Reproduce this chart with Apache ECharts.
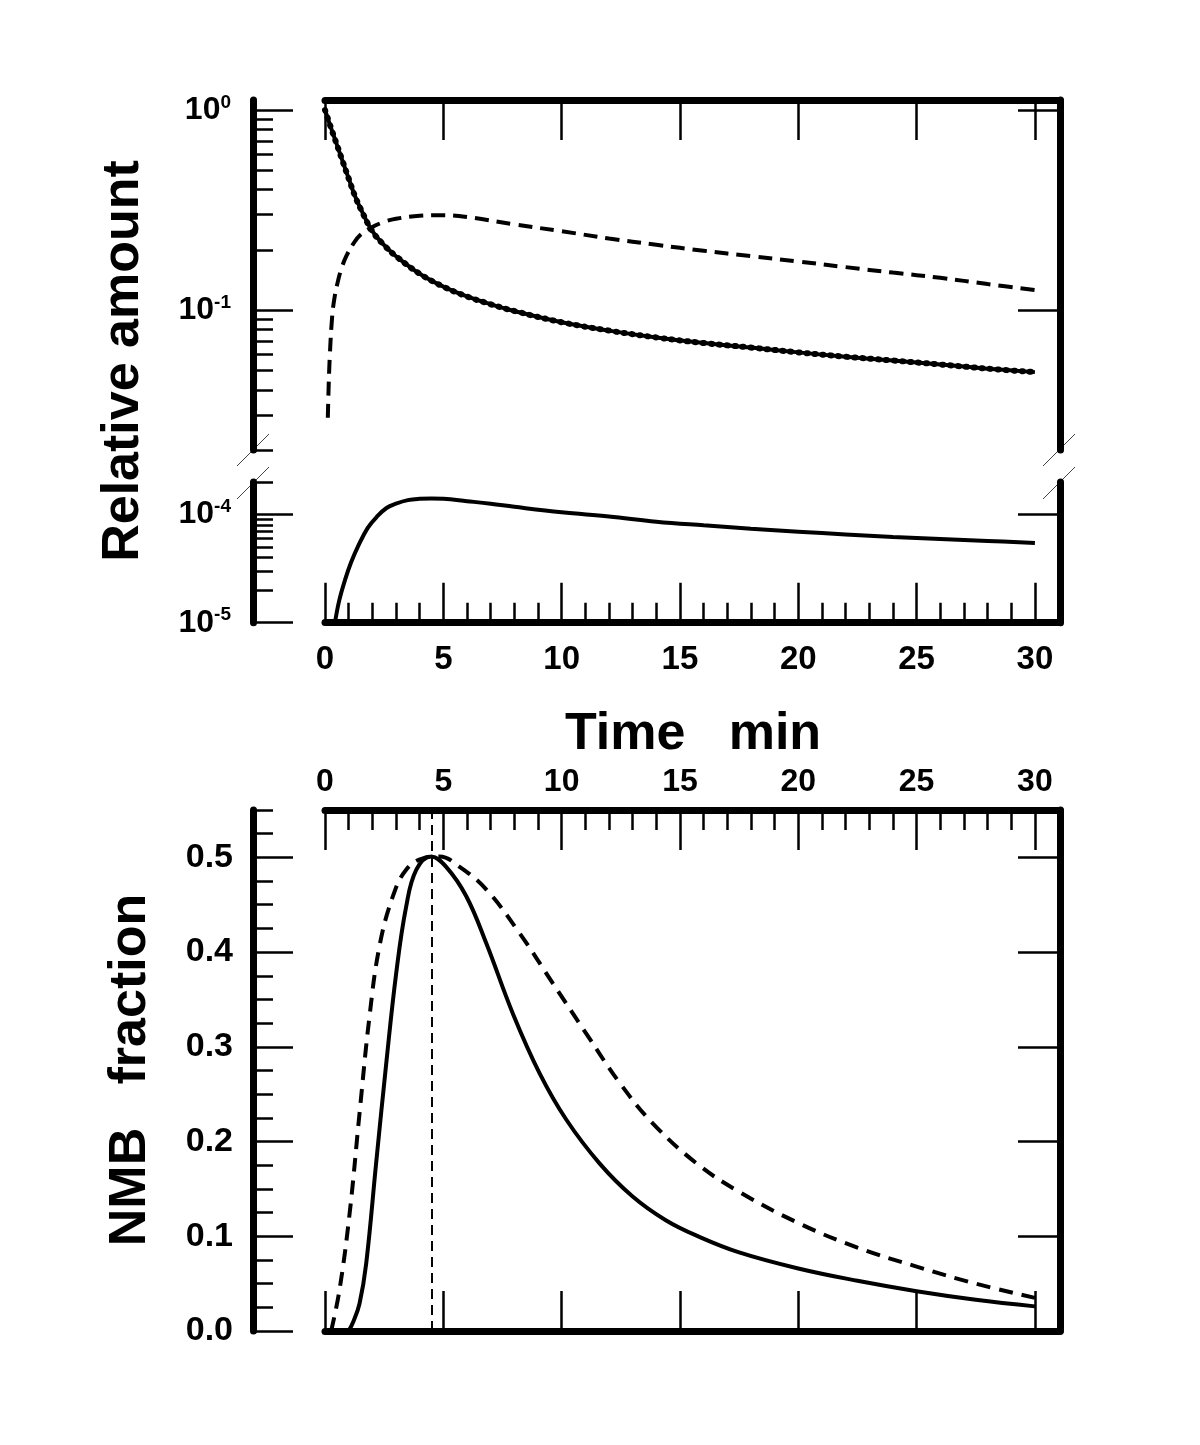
<!DOCTYPE html>
<html><head><meta charset="utf-8">
<script src="https://cdn.jsdelivr.net/npm/echarts@6/dist/echarts.min.js"></script>
<style>html,body{margin:0;padding:0;background:#fff}#c{width:1200px;height:1445px}</style>
</head><body><div id="c"></div>
<script>
// ---------- DATA ----------
// Upper panel (log scale): total relative amount (solid), intermediate (dashed)
const timeTotal = [0, 0.26, 0.5, 0.75, 1, 1.25, 1.5, 2, 2.5, 3, 4, 5, 6, 7, 8, 10, 12, 14, 16, 18, 20, 22, 24, 26, 28, 30];
const relTotal  = [1.0, 0.81, 0.672, 0.552, 0.455, 0.376, 0.322, 0.248, 0.211, 0.186, 0.152, 0.131, 0.117, 0.107, 0.099, 0.087, 0.079, 0.073, 0.0685, 0.065, 0.0615, 0.0585, 0.056, 0.0535, 0.051, 0.049];
const timeInter = [0.12, 0.15, 0.2, 0.3, 0.4, 0.55, 0.7, 0.9, 1.2, 1.5, 2, 2.5, 3, 4, 5, 6, 8, 10, 12, 14, 16, 18, 20, 22, 24, 26, 28, 30];
const relInter  = [0.029, 0.04, 0.058, 0.092, 0.115, 0.14, 0.162, 0.186, 0.215, 0.238, 0.26, 0.276, 0.286, 0.296, 0.298, 0.292, 0.268, 0.248, 0.228, 0.212, 0.198, 0.186, 0.175, 0.164, 0.154, 0.145, 0.135, 0.126];
// Lower part of upper panel (log scale, 1e-5 .. 2e-4)
const timeSmall = [0.42, 0.6, 0.85, 1.1, 1.4, 1.8, 2.2, 2.6, 3, 3.5, 4, 4.5, 5, 6, 7, 8, 10, 12, 14, 16, 18, 20, 22, 24, 26, 28, 30];
const relSmall  = [1.0e-5, 1.6e-5, 2.5e-5, 3.6e-5, 5.1e-5, 7.5e-5, 9.6e-5, 1.15e-4, 1.26e-4, 1.36e-4, 1.40e-4, 1.41e-4, 1.40e-4, 1.33e-4, 1.26e-4, 1.18e-4, 1.05e-4, 9.6e-5, 8.6e-5, 7.95e-5, 7.4e-5, 6.95e-5, 6.55e-5, 6.2e-5, 5.95e-5, 5.7e-5, 5.46e-5];
// Lower panel: NMB fraction
const timeNmbSolid = [1.0, 1.2, 1.46, 1.74, 2.16, 2.59, 3.01, 3.43, 3.86, 4.49, 5.12, 5.97, 6.82, 7.94, 9.07, 10.2, 11.6, 13.0, 14.4, 15.8, 17.5, 20, 22.5, 25, 27.5, 30];
const nmbSolid     = [0.0, 0.01, 0.029, 0.071, 0.177, 0.283, 0.378, 0.448, 0.487, 0.501, 0.49, 0.459, 0.409, 0.335, 0.272, 0.223, 0.177, 0.142, 0.117, 0.0996, 0.083, 0.066, 0.053, 0.042, 0.033, 0.026];
const timeNmbDash  = [0.26, 0.61, 1.04, 1.46, 1.88, 2.3, 2.87, 3.43, 4.14, 4.84, 5.69, 6.82, 8.22, 9.63, 11.04, 12.45, 13.86, 15.7, 17.5, 20, 22.5, 25, 27.5, 30];
const nmbDash      = [0.0, 0.043, 0.124, 0.23, 0.332, 0.406, 0.459, 0.487, 0.499, 0.501, 0.49, 0.466, 0.42, 0.367, 0.314, 0.262, 0.219, 0.177, 0.147, 0.114, 0.088, 0.068, 0.05, 0.035];
const peakTime = 4.5;
// Tick values
const xMajor = [0, 5, 10, 15, 20, 25, 30];
const xMinor = [0,1,2,3,4,5,6,7,8,9,10,11,12,13,14,15,16,17,18,19,20,21,22,23,24,25,26,27,28,29,30];
const logTopMajor = [0.1, 1];
const logTopMinor = [0.02,0.03,0.04,0.05,0.06,0.07,0.08,0.09,0.2,0.3,0.4,0.5,0.6,0.7,0.8,0.9];
const logLowMajor = [1e-5, 1e-4];
const logLowMinor = [2e-5,3e-5,4e-5,5e-5,6e-5,7e-5,8e-5,9e-5,2e-4];
const nmbMajor = [0, 0.1, 0.2, 0.3, 0.4, 0.5];
const nmbMinor = [0,0.025,0.05,0.075,0.1,0.125,0.15,0.175,0.2,0.225,0.25,0.275,0.3,0.325,0.35,0.375,0.4,0.425,0.45,0.475,0.5,0.525,0.55];
const nmbRight = [0.1, 0.2, 0.3, 0.4, 0.5];

// ---------- CHART ----------
const FONT = "'Liberation Sans', Arial, sans-serif";
const zip = (a, b) => a.map((v, i) => [v, b[i]]);
const chart = echarts.init(document.getElementById('c'), null, {renderer: 'canvas'});
const LINE = {show: true, onZero: false, lineStyle: {color: '#000', width: 7, cap: 'round'}};
const NOLINE = {show: false, onZero: false};
const tick = (vals, len) => ({show: true, inside: true, length: len, customValues: vals, lineStyle: {color: '#000', width: 2.5}});
const noLabel = {show: false};
const XMAX = 31.06;
function xAx(grid, pos, line, tk, label) {
  return {type: 'value', gridIndex: grid, position: pos, min: 0, max: XMAX,
    axisLine: line, axisTick: tk, axisLabel: label || noLabel, splitLine: {show: false}};
}
function yAx(grid, pos, type, min, max, line, tk, label, offset) {
  return {type: type, gridIndex: grid, position: pos, min: min, max: max, offset: offset || 0,
    axisLine: line, axisTick: tk, axisLabel: label || noLabel, splitLine: {show: false}, minorTick: {show: false}};
}
const logLabel = (vals) => ({show: true, customValues: vals, margin: 22, color: '#000', fontFamily: FONT,
  formatter: v => '{b|10}{s|' + Math.round(Math.log10(v)) + '}',
  rich: {b: {fontSize: 32, fontWeight: 'bold', fontFamily: FONT, color: '#000', lineHeight: 34},
         s: {fontSize: 19, fontWeight: 'bold', fontFamily: FONT, color: '#000', lineHeight: 18, verticalAlign: 'top'}}});
const xLabel = (margin, size) => ({show: true, customValues: xMajor, margin: margin, color: '#000', fontFamily: FONT, fontWeight: 'bold', fontSize: size});
const SMOOTH = 0.4;

const option = {
  backgroundColor: '#fff',
  animation: false,
  grid: [
    {left: 325, top: 100, width: 735, height: 350},
    {left: 325, top: 482, width: 735, height: 140.7},
    {left: 325, top: 810, width: 735, height: 521}
  ],
  xAxis: [
    xAx(0, 'top', LINE, tick(xMajor, 40)),
    xAx(1, 'bottom', LINE, tick(xMajor, 40), xLabel(21, 33)),
    xAx(1, 'bottom', NOLINE, tick(xMinor, 20)),
    xAx(2, 'top', LINE, tick(xMajor, 40), xLabel(12, 32)),
    xAx(2, 'top', NOLINE, tick(xMinor, 20)),
    xAx(2, 'bottom', LINE, tick(xMajor, 40))
  ],
  yAxis: [
    yAx(0, 'left', 'log', 0.02, 1.122, LINE, tick(logTopMajor, 40), logLabel(logTopMajor), 72),
    yAx(0, 'left', 'log', 0.02, 1.122, NOLINE, tick(logTopMinor, 20), null, 72),
    yAx(0, 'right', 'log', 0.02, 1.122, LINE, tick(logTopMajor, 42)),
    yAx(1, 'left', 'log', 1e-5, 2e-4, LINE, tick(logLowMajor, 40), logLabel(logLowMajor), 72),
    yAx(1, 'left', 'log', 1e-5, 2e-4, NOLINE, tick(logLowMinor, 20), null, 72),
    yAx(1, 'right', 'log', 1e-5, 2e-4, LINE, tick([1e-4], 42)),
    yAx(2, 'left', 'value', 0, 0.55, LINE, tick(nmbMajor, 40),
      {show: true, customValues: nmbMajor, margin: 20, color: '#000', fontFamily: FONT, fontWeight: 'bold', fontSize: 34,
       formatter: v => v.toFixed(1)}, 72),
    yAx(2, 'left', 'value', 0, 0.55, NOLINE, tick(nmbMinor, 20), null, 72),
    yAx(2, 'right', 'value', 0, 0.55, LINE, tick(nmbRight, 42))
  ],
  series: [
    {type: 'line', name: 'total', xAxisIndex: 0, yAxisIndex: 0, data: zip(timeTotal, relTotal),
      showSymbol: false, smooth: SMOOTH, lineStyle: {color: '#000', width: 4}},
    {type: 'line', name: 'total-dots', xAxisIndex: 0, yAxisIndex: 0, data: zip(timeTotal, relTotal),
      showSymbol: false, smooth: SMOOTH, lineStyle: {color: '#000', width: 6, type: [1, 7], cap: 'round'}},
    {type: 'line', name: 'intermediate', xAxisIndex: 0, yAxisIndex: 0, data: zip(timeInter, relInter),
      showSymbol: false, smooth: SMOOTH, lineStyle: {color: '#000', width: 4, type: [14, 8]}},
    {type: 'line', name: 'small', xAxisIndex: 1, yAxisIndex: 3, data: zip(timeSmall, relSmall),
      showSymbol: false, smooth: SMOOTH, lineStyle: {color: '#000', width: 4}},
    {type: 'line', name: 'nmb-solid', xAxisIndex: 3, yAxisIndex: 6, data: zip(timeNmbSolid, nmbSolid),
      showSymbol: false, smooth: SMOOTH, lineStyle: {color: '#000', width: 4},
      markLine: {silent: true, symbol: 'none', label: {show: false},
        lineStyle: {color: '#000', width: 2, type: [10, 6]}, data: [{xAxis: peakTime}]}},
    {type: 'line', name: 'nmb-dash', xAxisIndex: 3, yAxisIndex: 6, data: zip(timeNmbDash, nmbDash),
      showSymbol: false, smooth: SMOOTH, lineStyle: {color: '#000', width: 4, type: [14, 9]}}
  ],
  graphic: [
    {type: 'text', x: 124, y: 361, rotation: Math.PI / 2,
      style: {text: 'Relative amount', font: "bold 52px " + FONT, fill: '#000', align: 'center', verticalAlign: 'middle'}},
    {type: 'text', x: 693, y: 735,
      style: {text: 'Time   min', font: "bold 52px " + FONT, fill: '#000', align: 'center', verticalAlign: 'middle'}},
    {type: 'text', x: 131, y: 1070, rotation: Math.PI / 2,
      style: {text: 'NMB   fraction', font: "bold 52px " + FONT, fill: '#000', align: 'center', verticalAlign: 'middle'}},
    // axis-break marks
    {type: 'line', shape: {x1: 237, y1: 466, x2: 269, y2: 434}, style: {stroke: '#444', lineWidth: 1}},
    {type: 'line', shape: {x1: 237, y1: 499, x2: 269, y2: 467}, style: {stroke: '#444', lineWidth: 1}},
    {type: 'line', shape: {x1: 1043, y1: 466, x2: 1075, y2: 434}, style: {stroke: '#444', lineWidth: 1}},
    {type: 'line', shape: {x1: 1043, y1: 499, x2: 1075, y2: 467}, style: {stroke: '#444', lineWidth: 1}}
  ]
};
chart.setOption(option);
</script>
</body></html>
